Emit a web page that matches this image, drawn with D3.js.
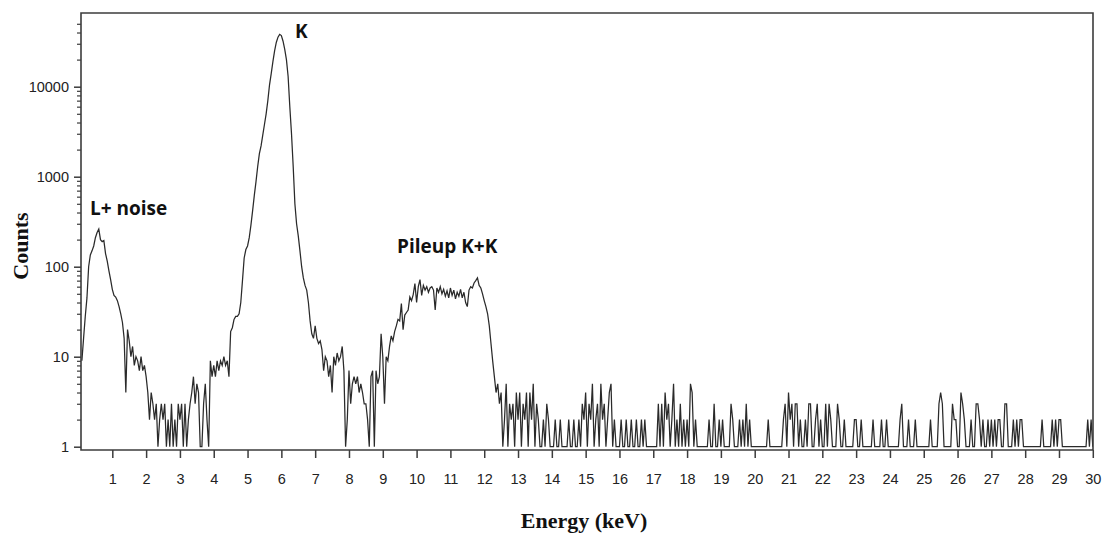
<!DOCTYPE html>
<html>
<head>
<meta charset="utf-8">
<script src="https://cdn.jsdelivr.net/npm/d3@7"></script>
<style>
  html, body { margin: 0; padding: 0; background: #fff; }
  svg { display: block; }
</style>
</head>
<body>
<svg id="chart" width="1105" height="533"></svg>
<script>
// ---- data ----
const binStart = 0.1;   // keV of first channel
const binWidth = 0.05;  // keV per channel
const counts = [
  // 0.10 - 0.95
  9, 16, 28, 45, 100, 135, 150, 170, 210, 240, 262, 200, 190, 195, 140, 115, 90, 72,
  // 1.00 - 1.95
  56, 48, 46, 42, 36, 30, 24, 16, 4, 20, 15, 10, 13, 8, 10, 9, 7, 10, 7, 8,
  // 2.00 - 2.95
  6, 4, 2, 4, 3, 2, 3, 1, 2, 3, 2, 3, 1, 2, 1, 3, 1, 2, 1, 3,
  // 3.00 - 3.95
  2, 3, 1, 3, 1, 2, 3, 4, 6, 3, 5, 4, 1, 1, 3, 5, 2, 1, 9, 6,
  // 4.00 - 4.95
  8, 6, 9, 7, 9, 8, 10, 8, 9, 6, 19, 21, 26, 28, 28, 30, 40, 70, 125, 155,
  // 5.00 - 5.95
  170, 210, 290, 420, 620, 880, 1300, 1800, 2200, 2900, 3800, 5000, 7000, 10500, 14000, 19000, 25000, 31000, 35500, 38200,
  // 6.00 - 6.95
  37000, 32000, 26000, 20000, 13000, 6000, 3000, 1300, 500, 300, 220, 150, 100, 75, 62, 55, 40, 25, 18, 16,
  // 7.00 - 7.95
  22, 16, 14, 15, 12, 7, 10, 9, 6, 8, 4, 10, 8, 11, 9, 10, 13, 7, 1, 2,
  // 8.00 - 8.95
  7, 3, 5, 6, 5, 6, 4, 5, 4, 3, 3, 2, 1, 6, 7, 1, 7, 5, 6, 18,
  // 9.00 - 9.95
  10, 3, 10, 9, 13, 17, 15, 19, 22, 26, 25, 39, 20, 29, 31, 33, 46, 42, 49, 65,
  // 10.00 - 10.95
  40, 60, 72, 48, 62, 55, 60, 52, 58, 60, 55, 33, 58, 52, 60, 50, 56, 47, 54, 45,
  // 11.00 - 11.95
  58, 48, 55, 44, 52, 47, 56, 45, 52, 40, 36, 55, 60, 58, 66, 70, 75, 62, 58, 50,
  // 12.00 - 12.95
  42, 36, 30, 22, 14, 9, 6, 4, 5, 3, 4, 1, 2, 5, 1, 3, 2, 3, 1, 4,
  // 13.00 - 13.95
  2, 4, 1, 3, 2, 4, 1, 4, 2, 5, 1, 3, 2, 1, 1, 2, 1, 3, 2, 1,
  // 14.00 - 14.95
  1, 1, 2, 1, 1, 2, 1, 1, 1, 1, 2, 1, 1, 2, 1, 1, 2, 1, 3, 2,
  // 15.00 - 15.95
  4, 1, 3, 2, 5, 1, 2, 3, 1, 5, 2, 3, 1, 2, 4, 5, 1, 2, 1, 1,
  // 16.00 - 16.95
  1, 2, 1, 1, 2, 1, 1, 2, 1, 1, 2, 1, 1, 2, 1, 2, 1, 1, 1, 1,
  // 17.00 - 17.95
  1, 1, 1, 3, 1, 3, 1, 4, 2, 3, 1, 2, 5, 1, 2, 1, 3, 1, 2, 1,
  // 18.00 - 18.95
  2, 1, 5, 4, 1, 2, 1, 1, 1, 1, 1, 1, 1, 2, 1, 1, 3, 1, 1, 2,
  // 19.00 - 19.95
  1, 2, 1, 1, 1, 1, 3, 2, 1, 1, 1, 2, 1, 2, 1, 3, 1, 2, 1, 1,
  // 20.00 - 20.95
  1, 1, 1, 1, 1, 1, 1, 1, 2, 1, 1, 1, 1, 1, 1, 1, 1, 2, 3, 1,
  // 21.00 - 21.95
  4, 2, 3, 1, 3, 3, 1, 2, 1, 1, 2, 1, 3, 3, 1, 1, 2, 3, 1, 2,
  // 22.00 - 22.95
  1, 1, 3, 1, 3, 2, 1, 1, 1, 3, 2, 1, 1, 2, 1, 1, 1, 1, 1, 2,
  // 23.00 - 23.95
  2, 1, 1, 2, 1, 1, 1, 1, 1, 1, 2, 1, 1, 1, 1, 2, 1, 1, 2, 1,
  // 24.00 - 24.95
  1, 1, 1, 1, 1, 1, 2, 3, 1, 1, 1, 2, 1, 1, 1, 2, 1, 1, 1, 1,
  // 25.00 - 25.95
  1, 1, 1, 1, 2, 1, 1, 1, 1, 3, 4, 3, 1, 1, 1, 1, 1, 3, 2, 2,
  // 26.00 - 26.95
  1, 1, 4, 3, 2, 1, 1, 1, 2, 1, 1, 3, 3, 2, 1, 2, 1, 1, 2, 1,
  // 27.00 - 27.95
  2, 1, 2, 1, 2, 2, 1, 1, 3, 3, 1, 1, 1, 2, 1, 2, 1, 2, 2, 1,
  // 28.00 - 28.95
  1, 1, 1, 1, 1, 1, 1, 1, 1, 1, 2, 1, 1, 1, 1, 1, 2, 1, 2, 1,
  // 29.00 - 29.95
  2, 2, 1, 1, 1, 1, 1, 1, 1, 1, 1, 1, 1, 1, 1, 1, 1, 2, 1, 2,
  // 30.00
  1
];

const xTickValues = [1,2,3,4,5,6,7,8,9,10,11,12,13,14,15,16,17,18,19,20,21,22,23,24,25,26,27,28,29,30];
const yTickValues = [1, 10, 100, 1000, 10000];
const yMinorTickValues = [2,3,4,5,6,7,8,9,20,30,40,50,60,70,80,90,200,300,400,500,600,700,800,900,
                          2000,3000,4000,5000,6000,7000,8000,9000,20000,30000,40000,50000];

const annotationLabels = ["L+ noise", "K", "Pileup K+K"];
const annotationEnergy = [0.34, 6.40, 9.42];
const annotationCounts = [375, 34800, 142];

const xTitle = "Energy (keV)";
const yTitle = "Counts";

// ---- layout ----
const frame = { left: 81, right: 1093, top: 13, bottom: 450 };

const svg = d3.select("#chart");

const x = d3.scaleLinear().domain([0, 30]).range([78.5, 1092.8]);
const y = d3.scaleLog().domain([1, 10000]).range([446.7, 86.7]);

const data = counts.map((c, i) => ({ e: binStart + i * binWidth, c }));

// clip
svg.append("defs").append("clipPath").attr("id", "plotclip")
  .append("rect")
  .attr("x", frame.left).attr("y", frame.top)
  .attr("width", frame.right - frame.left).attr("height", frame.bottom - frame.top);

// spectrum line
const line = d3.line().x(d => x(d.e)).y(d => y(d.c));
svg.append("path")
  .datum(data)
  .attr("clip-path", "url(#plotclip)")
  .attr("fill", "none")
  .attr("stroke", "#2a2a2a")
  .attr("stroke-width", 1.25)
  .attr("stroke-linejoin", "miter")
  .attr("d", line);

const axisColor = "#3c3c3c";
const tickFont = "'Liberation Sans', Arial, sans-serif";

// x axis
const gx = svg.append("g")
  .attr("transform", `translate(0,${frame.bottom})`)
  .call(d3.axisBottom(x).tickValues(xTickValues).tickSize(8).tickPadding(16).tickFormat(d3.format("d")));
gx.select(".domain").remove();
gx.selectAll(".tick line").attr("stroke", axisColor).attr("stroke-width", 1.5);
gx.selectAll(".tick text").attr("fill", "#222").style("font-family", tickFont).style("font-size", "14.5px");

// y axis minor
const gyMinor = svg.append("g")
  .attr("transform", `translate(${frame.left},0)`)
  .call(d3.axisLeft(y).tickValues(yMinorTickValues).tickSize(4).tickFormat(""));
gyMinor.select(".domain").remove();
gyMinor.selectAll(".tick line").attr("stroke", axisColor).attr("stroke-width", 1.2);

// y axis major
const gy = svg.append("g")
  .attr("transform", `translate(${frame.left},0)`)
  .call(d3.axisLeft(y).tickValues(yTickValues).tickSize(7).tickPadding(5).tickFormat(d3.format("d")));
gy.select(".domain").remove();
gy.selectAll(".tick line").attr("stroke", axisColor).attr("stroke-width", 1.5);
gy.selectAll(".tick text").attr("fill", "#222").style("font-family", tickFont).style("font-size", "14.5px");

// frame
svg.append("path")
  .attr("fill", "none")
  .attr("stroke", axisColor)
  .attr("stroke-width", 1.6)
  .attr("d", `M${frame.left},${frame.top}H${frame.right}V${frame.bottom}H${frame.left}Z`);

// axis titles
svg.append("text")
  .attr("x", (frame.left + frame.right) / 2 - 3)
  .attr("y", 528)
  .attr("text-anchor", "middle")
  .style("font-family", "'Liberation Serif', 'Times New Roman', serif")
  .style("font-weight", "bold")
  .style("font-size", "22px")
  .attr("fill", "#111")
  .text(xTitle);

svg.append("text")
  .attr("transform", "translate(28,246) rotate(-90)")
  .attr("text-anchor", "middle")
  .style("font-family", "'Liberation Serif', 'Times New Roman', serif")
  .style("font-weight", "bold")
  .style("font-size", "22px")
  .attr("fill", "#111")
  .text(yTitle);

// annotations
svg.selectAll(".annot")
  .data(annotationLabels)
  .enter().append("text")
  .attr("class", "annot")
  .attr("x", (d, i) => x(annotationEnergy[i]))
  .attr("y", (d, i) => y(annotationCounts[i]))
  .style("font-family", "'Open Sans', 'Noto Sans', sans-serif")
  .style("font-weight", "bold")
  .style("font-size", "19px")
  .attr("fill", "#111")
  .text(d => d);
</script>
</body>
</html>
